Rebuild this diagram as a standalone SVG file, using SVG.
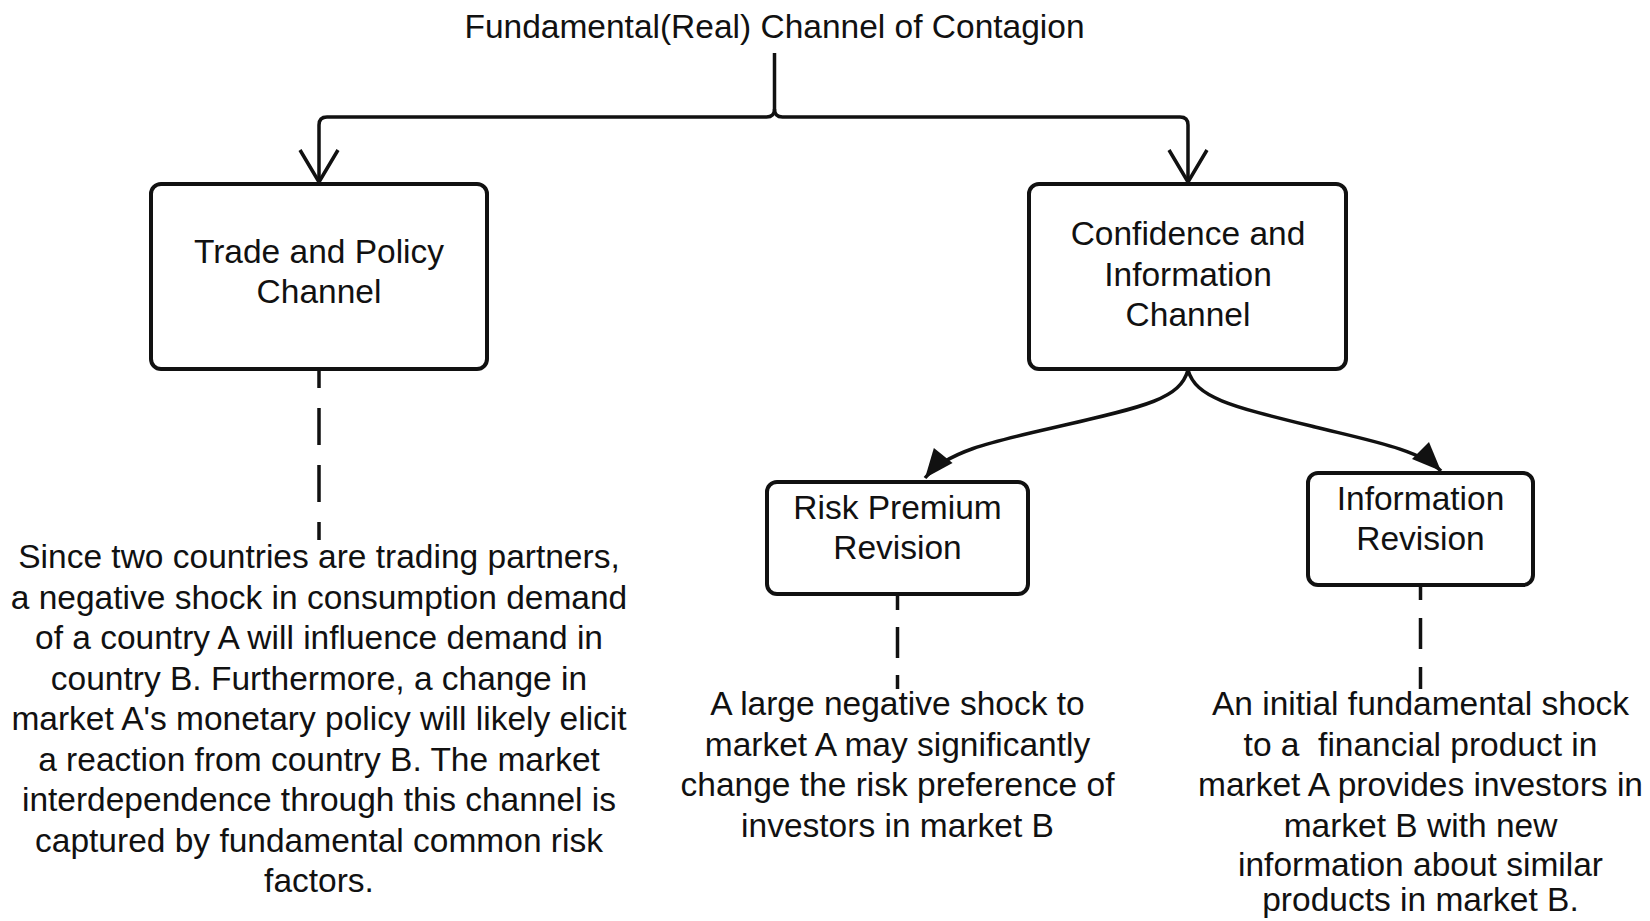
<svg xmlns="http://www.w3.org/2000/svg" width="1650" height="921" viewBox="0 0 1650 921">
  <style>
    text { font-family: "Liberation Sans", Arial, sans-serif; font-size: 33.5px; fill: #111; text-anchor: middle; }
    .box { fill: #fff; stroke: #111; stroke-width: 4; }
    .link { fill: none; stroke: #111; stroke-width: 3.5; stroke-linejoin: round; }
    .head { fill: none; stroke: #111; stroke-width: 3.5; }
    .dash { fill: none; stroke: #111; stroke-width: 3.5; }
    .pre { white-space: pre; }
  </style>
  <defs>
    <marker id="solid" markerUnits="userSpaceOnUse" viewBox="-30 -14 32 28" refX="0" refY="0" markerWidth="32" markerHeight="28" orient="auto">
      <path d="M-29,-12 L0,0 L-29,12 Z" fill="#111"/>
    </marker>
  </defs>
  <rect width="1650" height="921" fill="#fff"/>

  <text x="774.5" y="38">Fundamental(Real) Channel of Contagion</text>

  <g id="connectors">
    <!-- split from the title into the two channels -->
    <path class="link" d="M774.5,53 V109 Q774.5,117 766.5,117 H327 Q319,117 319,125 V182"/>
    <path class="link" d="M774.5,109 Q774.5,117 782.5,117 H1180 Q1188,117 1188,125 V182"/>
    <path class="head" d="M300,150 L319,182 L338,150"/>
    <path class="head" d="M1169,150 L1188,182 L1207,150"/>
    <!-- confidence channel to its two revisions -->
    <path class="link" d="M1188,370 C1180,398 1150,406 1052,428 C990,442 946,452 925,478" marker-end="url(#solid)"/>
    <path class="link" d="M1188,370 C1196,398 1230,406 1315,427 C1372,441 1420,450 1441,471" marker-end="url(#solid)"/>
    <!-- dashed leaders to the notes -->
    <line class="dash" x1="319" y1="370" x2="319" y2="540" stroke-dasharray="37 20" stroke-dashoffset="19"/>
    <line class="dash" x1="897.5" y1="594" x2="897.5" y2="689" stroke-dasharray="31 17" stroke-dashoffset="15"/>
    <line class="dash" x1="1420.5" y1="585" x2="1420.5" y2="689" stroke-dasharray="31 18" stroke-dashoffset="16"/>
  </g>

  <g id="trade-policy">
    <rect class="box" x="151" y="184" width="336" height="185" rx="10"/>
    <text x="319" y="263">Trade and Policy</text>
    <text x="319" y="303">Channel</text>
  </g>

  <g id="confidence-information">
    <rect class="box" x="1029" y="184" width="317" height="185" rx="10"/>
    <text x="1188" y="245">Confidence and</text>
    <text x="1188" y="286">Information</text>
    <text x="1188" y="326">Channel</text>
  </g>

  <g id="risk-premium">
    <rect class="box" x="767" y="482" width="261" height="112" rx="10"/>
    <text x="897.5" y="519">Risk Premium</text>
    <text x="897.5" y="559">Revision</text>
  </g>

  <g id="information-revision">
    <rect class="box" x="1308" y="473" width="225" height="112" rx="10"/>
    <text x="1420.5" y="510">Information</text>
    <text x="1420.5" y="550">Revision</text>
  </g>

  <g id="trade-policy-note">
    <text x="319" y="568">Since two countries are trading partners,</text>
    <text x="319" y="608.5">a negative shock in consumption demand</text>
    <text x="319" y="649">of a country A will influence demand in</text>
    <text x="319" y="689.5">country B. Furthermore, a change in</text>
    <text x="319" y="730">market A's monetary policy will likely elicit</text>
    <text x="319" y="770.5">a reaction from country B. The market</text>
    <text x="319" y="811">interdependence through this channel is</text>
    <text x="319" y="851.5">captured by fundamental common risk</text>
    <text x="319" y="892">factors.</text>
  </g>

  <g id="risk-premium-note">
    <text x="897.5" y="715">A large negative shock to</text>
    <text x="897.5" y="755.5">market A may significantly</text>
    <text x="897.5" y="796">change the risk preference of</text>
    <text x="897.5" y="836.5">investors in market B</text>
  </g>

  <g id="information-revision-note">
    <text x="1420.5" y="715">An initial fundamental shock</text>
    <text class="pre" x="1420.5" y="755.5">to a  financial product in</text>
    <text x="1420.5" y="796">market A provides investors in</text>
    <text x="1420.5" y="836.5">market B with new</text>
    <text x="1420.5" y="876">information about similar</text>
    <text x="1420.5" y="911">products in market B.</text>
  </g>
</svg>
